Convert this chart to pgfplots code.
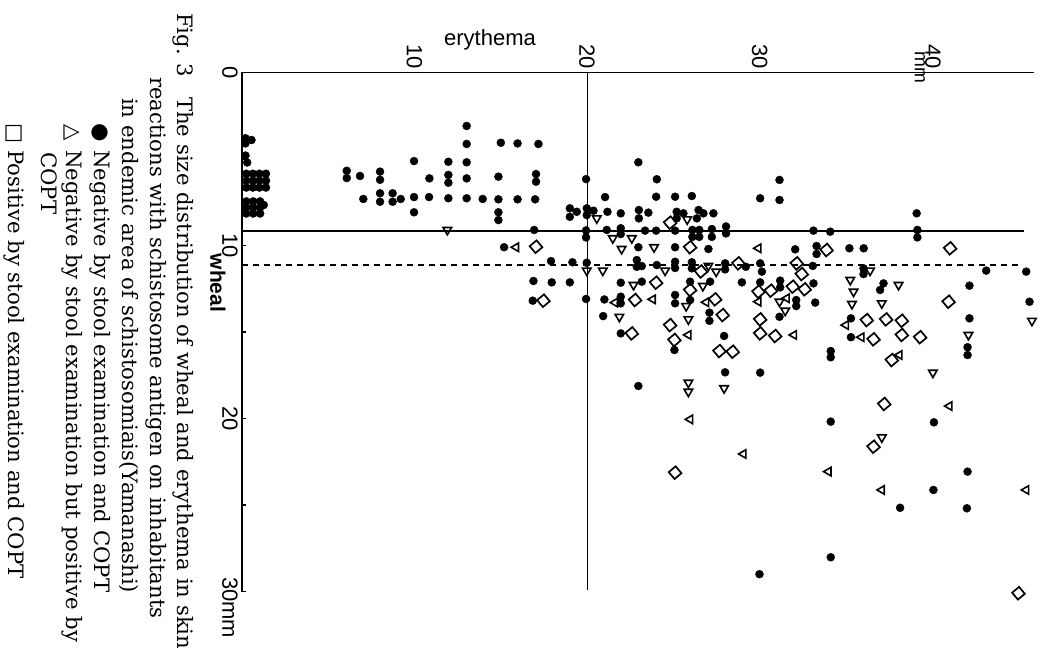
\documentclass[border=0pt]{standalone}
\usepackage{fontspec}
\setmainfont{DejaVu Serif}
\newfontfamily\labfont{Liberation Sans}
\newfontfamily\symfont{DejaVu Sans}
\usepackage{pgfplots}
\pgfplotsset{compat=1.18}
\usepackage{pgfplotstable}

% erythema (mm)  wheal (mm)
\pgfplotstableread{
e w
0.2 3.8
0.55 3.9
0.2 4.1
0.2 4.8
0.3 5.2
0.25 5.85
0.63 5.85
1.01 5.85
1.39 5.85
0.25 6.25
0.63 6.25
1.01 6.25
1.39 6.25
0.25 6.65
0.63 6.65
1.01 6.65
1.39 6.65
0.25 7.45
0.65 7.45
1.05 7.45
0.25 7.8
0.65 7.8
1.05 7.8
0.25 8.15
0.65 8.15
1.05 8.15
1.26 7.66
6.07 5.68
6.07 6.10
6.84 5.98
7.03 7.31
8.0 5.73
8.0 6.2
8.0 6.98
8.0 7.47
8.73 6.98
8.73 7.47
9.2 7.31
9.97 5.12
9.97 7.2
9.97 8.08
10.86 6.12
10.84 7.2
11.96 5.16
11.96 5.92
11.96 6.37
11.96 7.27
13.02 3.09
13.02 4.13
13.02 5.19
13.02 6.12
13.02 7.27
13.95 7.31
14.86 6.02
14.86 7.33
14.86 8.08
14.86 8.53
15.0 4.06
15.97 4.1
15.97 7.33
17.18 4.13
17.04 5.87
17.04 6.31
16.99 7.33
16.93 9.1
15.19 10.1
17.91 10.9
19.15 10.97
16.89 12.05
17.95 12.13
19.0 12.13
16.85 13.19
19.94 6.16
19.0 7.85
19.0 8.34
19.4 8.05
19.98 7.85
20.37 7.99
19.98 8.24
21.04 7.2
21.18 8.05
21.95 8.14
22.97 5.19
24.04 6.17
24.0 7.18
25.1 7.18
26.07 7.14
23.0 7.95
23.0 8.43
23.55 8.1
25.19 8.05
25.58 8.14
25.19 8.43
26.46 7.95
26.74 8.14
26.36 8.43
27.32 8.14
19.94 9.13
19.94 9.53
21.14 9.1
21.95 9.0
21.95 9.34
23.36 9.14
24.0 9.14
25.1 9.14
26.1 9.1
26.5 9.1
26.1 9.5
26.5 9.5
27.23 9.05
27.23 9.5
28.05 8.9
28.05 9.3
22.97 10.1
25.1 10.1
27.03 10.2
32.06 10.22
33.3 10.03
33.3 10.49
35.2 10.16
36.03 10.16
30.03 7.27
31.15 6.21
31.15 7.37
39.1 8.14
39.14 9.1
39.14 9.53
33.12 9.14
34.09 9.2
19.98 11.0
22.88 10.84
22.88 11.23
23.17 11.19
24.04 11.13
25.1 10.94
25.1 11.3
26.07 10.97
26.07 11.32
28.0 11.03
28.0 11.38
29.2 11.23
30.03 11.03
30.13 11.51
33.08 11.18
36.02 11.32
36.02 11.65
43.13 11.45
45.45 11.51
20.93 14.08
21.95 15.08
21.95 12.15
23.17 12.09
21.0 13.12
21.95 12.96
21.95 13.34
25.1 12.86
25.1 13.34
25.97 12.09
25.97 13.15
27.13 12.09
27.09 13.88
27.09 14.35
25.06 16.04
27.94 15.23
28.0 17.33
22.97 18.12
30.03 17.35
28.97 12.13
30.03 12.13
31.19 12.03
31.19 12.42
31.15 14.12
32.12 13.15
32.12 13.5
33.12 12.19
33.22 13.3
34.12 16.1
34.12 16.46
34.12 20.18
34.12 28.02
29.99 29.0
35.29 14.21
35.29 15.3
37.18 12.19
36.98 12.57
40.1 20.22
38.14 25.16
40.07 24.13
42.05 23.07
42.01 25.19
42.16 12.32
42.16 14.21
42.05 15.88
42.05 16.33
45.64 13.25
19.94 13.09
}\dotdata

\pgfplotstableread{
e w
11.9 9.1
20.56 8.43
25.8 8.49
21.49 9.58
22.59 9.58
22.0 10.2
23.88 10.1
19.98 11.45
20.91 11.45
24.52 11.45
27.03 11.17
27.48 11.51
36.4 11.45
38.05 12.28
37.08 13.34
35.25 11.99
35.44 12.67
35.35 13.38
45.78 14.35
21.87 14.12
22.69 12.28
25.74 13.5
26.71 12.34
25.87 14.27
25.87 17.93
25.87 18.45
27.94 18.25
31.15 13.25
31.48 13.77
40.04 17.35
37.08 21.09
42.1 15.17
}\tridowndata

\pgfplotstableread{
e w
15.88 10.1
29.93 10.16
35.0 14.6
21.62 13.3
23.81 13.11
26.9 13.28
25.87 15.17
25.97 20.05
29.06 22.05
29.93 13.25
31.57 13.05
31.99 15.17
33.99 23.07
35.9 15.3
38.1 16.33
41.0 19.28
37.08 24.13
45.45 24.13
}\trileftdata

\pgfplotstableread{
e w
17.04 10.07
17.47 13.19
24.81 8.68
25.97 10.1
26.6 11.5
28.77 11.03
32.15 11.03
32.44 11.65
41.04 10.16
33.88 10.26
40.95 13.25
36.21 14.31
37.33 14.27
38.24 14.35
22.59 15.08
24.0 12.15
22.78 13.15
25.97 12.57
27.42 13.11
27.86 14.02
24.81 14.6
25.06 15.46
27.67 16.1
28.44 16.14
25.1 23.13
29.93 12.67
30.65 12.61
31.92 12.38
32.61 12.53
30.03 14.27
30.03 15.08
30.9 15.23
36.6 15.42
38.24 15.17
39.3 15.3
37.66 16.62
37.22 19.16
36.6 21.63
45.0 30.1
}\sqdata

\begin{document}
\begin{tikzpicture}[x=1pt,y=1pt]
\path[use as bounding box] (0,0) rectangle (1039,-656);
\begin{axis}[
  at={(242pt,-72.5pt)}, anchor=north west,
  scale only axis, width=792pt, height=519pt,
  xmin=0, xmax=45.9, ymin=0, ymax=30, y dir=reverse,
  hide axis, clip=false]
% frame and ticks
\draw[line width=1.5pt] (axis cs:45.9,0) -- (axis cs:0,0) -- (axis cs:0,30) -- ++(4pt,0pt);
\draw[line width=1.3pt] (axis cs:0,5) -- ++(4pt,0pt);
\draw[line width=1.3pt] (axis cs:0,10) -- ++(4pt,0pt);
\draw[line width=1.3pt] (axis cs:0,15) -- ++(4pt,0pt);
\draw[line width=1.3pt] (axis cs:0,20) -- ++(4pt,0pt);
\draw[line width=1.3pt] (axis cs:0,25) -- ++(4pt,0pt);
% reference lines
\addplot[line width=1.2pt, no marks] coordinates {(20,0) (20,29.9)};
\addplot[line width=1.2pt, no marks] coordinates {(0,9.16) (45.3,9.16)};
\addplot[line width=1.2pt, no marks, dash pattern=on 6pt off 5pt] coordinates {(0,11.13) (45.1,11.13)};
% data
\addplot[only marks, mark=*, mark size=4pt, black] table {\dotdata};
\addplot[only marks, mark=triangle, mark size=4.9pt, black, mark options={rotate=180, line width=1.6pt}] table {\tridowndata};
\addplot[only marks, mark=triangle, mark size=4.9pt, black, mark options={rotate=90, line width=1.6pt}] table {\trileftdata};
\addplot[only marks, mark=square, mark size=4.5pt, black, mark options={rotate=40, line width=1.7pt}] table {\sqdata};
\end{axis}
% tick labels (top)
\begin{scope}[every node/.style={font=\labfont\fontsize{22pt}{26pt}\selectfont, inner sep=0pt}]
\node[rotate=-90, anchor=east] at (414.5,-69) {10};
\node[rotate=-90, anchor=east] at (587,-69) {20};
\node[rotate=-90, anchor=east] at (759.6,-69) {30};
\node[rotate=-90, anchor=east] at (933,-69) {40};
\node at (490,-40) {erythema};
% tick labels (left)
\node[rotate=-90] at (230,-72.5) {0};
\node[rotate=-90] at (230,-245.5) {10};
\node[rotate=-90] at (230,-418.5) {20};
\node[rotate=-90, anchor=west] at (230,-577) {30mm};
\node[rotate=-90, font=\labfont\bfseries\fontsize{21pt}{25pt}\selectfont] at (218,-283) {wheal};
\end{scope}
\node[rotate=-90, inner sep=0pt, font=\labfont\fontsize{19pt}{22pt}\selectfont] at (920,-67) {mm};
% caption (one node per printed line; rotated as in the reference)
\begin{scope}[every node/.style={rotate=-90, anchor=base west, inner sep=0pt, font=\fontsize{21.2pt}{26pt}\selectfont}]
\node at (177,-13) {Fig.};
\node at (177,-63) {3};
\node at (177,-97) {The size distribution of wheal and erythema in skin};
\node at (150,-77) {reactions with schistosome antigen on inhabitants};
\node at (122,-98) {in endemic area of schistosomiais(Yamanashi)};
\node at (94,-123) {{\symfont ●}};
\node at (94,-150) {Negative by stool examination and COPT};
\node at (66,-124) {{\symfont △}};
\node at (66,-150) {Negative by stool examination but positive by};
\node at (41,-152) {COPT};
\node at (9,-123) {{\symfont □}};
\node at (9,-150) {Positive by stool examination and COPT};
\end{scope}
\end{tikzpicture}
\end{document}
